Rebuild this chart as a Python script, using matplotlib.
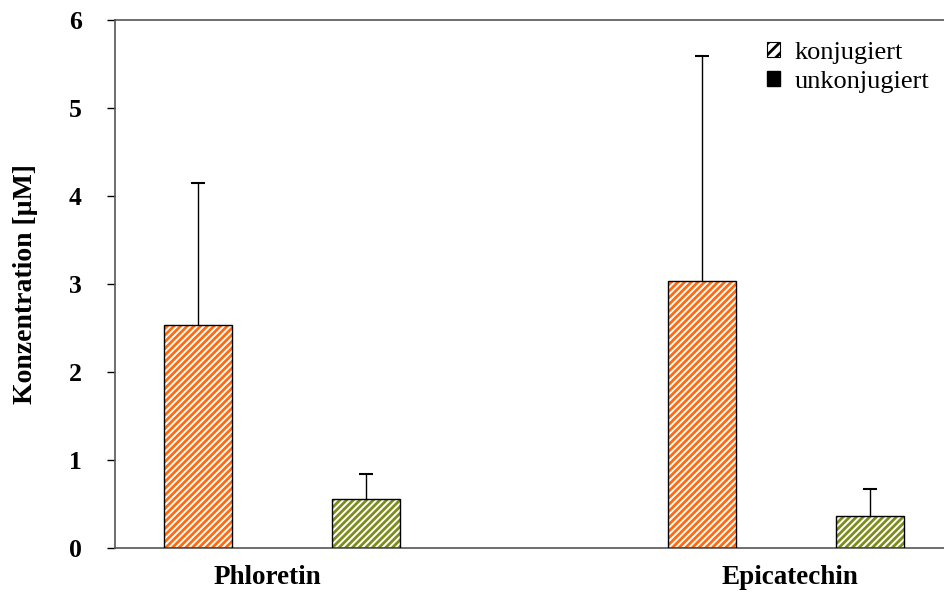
import matplotlib
matplotlib.use("Agg")
import matplotlib.pyplot as plt
import matplotlib.patches as mpatches
import numpy as np

categories = ["Phloretin", "Epicatechin"]
konjugiert = [2.53, 3.03]
konjugiert_err = [1.62, 2.56]
unkonjugiert = [0.56, 0.36]
unkonjugiert_err = [0.28, 0.31]
yticks = [0, 1, 2, 3, 4, 5, 6]

plt.rcParams['font.family'] = ['Liberation Serif', 'DejaVu Serif']
plt.rcParams['hatch.linewidth'] = 2.0

fig = plt.figure(figsize=(9.44, 5.99), dpi=100)
ax = fig.add_axes([115/944, (599-548)/599, 829/944, 528/599])

x = np.arange(len(categories))
off = 0.1667
w = 0.135
orange = "#FF6A10"
green = "#7E8C1E"

for xs, vals, errs, col in [(x - off, konjugiert, konjugiert_err, orange),
                            (x + off, unkonjugiert, unkonjugiert_err, green)]:
    ax.bar(xs, vals, w, color="white", edgecolor=col, hatch="/////", linewidth=0, zorder=2)
    ax.bar(xs, vals, w, fill=False, edgecolor="black", linewidth=1.0, zorder=3)
    eb = ax.errorbar(xs, vals, yerr=[np.zeros(len(vals)), errs], fmt="none",
                     ecolor="black", elinewidth=1.0, capsize=5, capthick=1.5, zorder=1)
    caps = eb.lines[1]
    if len(caps) > 0:
        caps[0].set_visible(False)

ax.set_xlim(-0.331, 1.313)
ax.set_ylim(0, 6)
ax.set_yticks(yticks)
ax.set_yticklabels([str(t) for t in yticks], fontsize=18.5, fontweight="bold")
ax.set_xticks(x + np.array([-0.028, 0.008]))
ax.set_xticklabels(categories, fontsize=19.5, fontweight="bold")
ax.tick_params(axis="x", length=0, pad=12)
ax.tick_params(axis="y", length=6, width=1, direction="out", pad=18)
ax.spines["right"].set_visible(False)
for s in ["left", "bottom", "top"]:
    ax.spines[s].set_color("#555555")
    ax.spines[s].set_linewidth(1.2)
ax.set_ylabel("Konzentration [µM]", fontsize=20, fontweight="bold", labelpad=22)

h1 = mpatches.Patch(facecolor="white", edgecolor="black", hatch="///", linewidth=0.8)
h2 = mpatches.Patch(facecolor="black", edgecolor="black")
leg = ax.legend([h1, h2], ["konjugiert", "unkonjugiert"], loc="upper left",
                bbox_to_anchor=(0.786, 0.958), frameon=False, fontsize=19,
                handlelength=0.5, handleheight=0.5, handletextpad=0.55,
                labelspacing=0.25, borderpad=0, borderaxespad=0)

fig.savefig("out.png", dpi=100)
